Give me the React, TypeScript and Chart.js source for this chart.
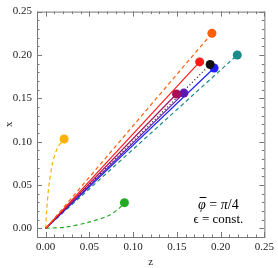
import React, { useEffect, useRef } from "react";
import { Chart, registerables } from "chart.js";

Chart.register(...registerables);

// Axis extents and tick values
const axisMin = -0.01;
const axisMax = 0.25;
const majorTicks = [0, 0.05, 0.1, 0.15, 0.2, 0.25];
const minorStep = 0.01;

// Series (z = horizontal, x = vertical)
const orangeZ = [0, 0.19];
const orangeX = [0, 0.225];
const redZ = [0, 0.176];
const redX = [0, 0.192];
const crimsonZ = [0, 0.1495];
const crimsonX = [0, 0.155];
const purpleZ = [0, 0.158];
const purpleX = [0, 0.156];
const blackZ = [0, 0.188];
const blackX = [0, 0.189];
const blueZ = [0, 0.1925];
const blueX = [0, 0.185];
const tealZ = [0, 0.219];
const tealX = [0, 0.2];
const yellowZ = [0, 0.0008, 0.0037, 0.0082, 0.0138, 0.021];
const yellowX = [0, 0.017, 0.05, 0.077, 0.0935, 0.103];
const greenZ = [0, 0.0232, 0.0493, 0.0717, 0.083, 0.09];
const greenX = [0, 0.0015, 0.0071, 0.0146, 0.0222, 0.0296];

const FONT = '"Liberation Serif", "DejaVu Serif", serif';

function pts(zs: number[], xs: number[]) {
  return zs.map((z, i) => ({ x: z, y: xs[i] }));
}

function ds(zs: number[], xs: number[], color: string, dash: number[], width = 1.2, tension = 0) {
  const n = zs.length;
  return {
    data: pts(zs, xs),
    showLine: true,
    borderColor: color,
    backgroundColor: color,
    borderWidth: width,
    borderDash: dash,
    tension,
    pointRadius: zs.map((_, i) => (i === n - 1 ? 4.5 : 0)),
    pointHoverRadius: 0,
    pointBorderWidth: 0,
    pointBackgroundColor: color,
  };
}

const framePlugin = {
  id: "frameTicks",
  beforeDatasetsDraw(chart: any) {
    const { ctx, chartArea } = chart;
    const { left, right, top, bottom } = chartArea;
    const xs = chart.scales.x;
    const ys = chart.scales.y;
    ctx.save();
    ctx.strokeStyle = "#777";
    ctx.lineWidth = 1;
    ctx.strokeRect(left + 0.5, top + 0.5, right - left, bottom - top);
    ctx.beginPath();
    const nSteps = Math.round((axisMax - axisMin) / minorStep);
    for (let i = 0; i <= nSteps; i++) {
      const v = axisMin + i * minorStep;
      const major = majorTicks.some((m) => Math.abs(m - v) < 1e-9);
      const len = major ? 5 : 2.5;
      const px = Math.round(xs.getPixelForValue(v)) + 0.5;
      const py = Math.round(ys.getPixelForValue(v)) + 0.5;
      ctx.moveTo(px, bottom);
      ctx.lineTo(px, bottom - len);
      ctx.moveTo(px, top);
      ctx.lineTo(px, top + len);
      ctx.moveTo(left, py);
      ctx.lineTo(left + len, py);
      ctx.moveTo(right, py);
      ctx.lineTo(right - len, py);
    }
    ctx.stroke();
    ctx.restore();
  },
  afterDraw(chart: any) {
    const { ctx, chartArea } = chart;
    ctx.save();
    ctx.fillStyle = "#000";
    ctx.strokeStyle = "#000";
    ctx.textBaseline = "middle";
    // line 1: φ̄ = π/4 (bar drawn as a stroke over φ)
    const parts: [string, string][] = [
      ["φ", `italic 14px ${FONT}`],
      [" = ", `14px ${FONT}`],
      ["π", `italic 14px ${FONT}`],
      ["/4", `14px ${FONT}`],
    ];
    let total = 0;
    for (const [t, f] of parts) {
      ctx.font = f;
      total += ctx.measureText(t).width;
    }
    let x = chartArea.right - 46 - total / 2;
    const y1 = chartArea.bottom - 32;
    ctx.textAlign = "left";
    parts.forEach(([t, f], idx) => {
      ctx.font = f;
      ctx.fillText(t, x, y1);
      const w = ctx.measureText(t).width;
      if (idx === 0) {
        ctx.lineWidth = 1;
        ctx.beginPath();
        ctx.moveTo(x + 1.5, y1 - 7.5);
        ctx.lineTo(x + w + 0.5, y1 - 7.5);
        ctx.stroke();
      }
      x += w;
    });
    ctx.font = `13px ${FONT}`;
    ctx.textAlign = "center";
    ctx.fillText("ϵ = const.", chartArea.right - 46, chartArea.bottom - 17);
    ctx.restore();
  },
};

export default function App() {
  const ref = useRef<HTMLCanvasElement | null>(null);
  useEffect(() => {
    document.body.style.margin = "0";
    if (!ref.current) return;
    const tickFont = { family: FONT, size: 11 };
    const chart = new Chart(ref.current, {
      type: "scatter",
      data: {
        datasets: [
          ds(orangeZ, orangeX, "#ff5f0a", [4, 3]),
          ds(redZ, redX, "#ff1a1a", []),
          ds(crimsonZ, crimsonX, "#a8105a", []),
          ds(purpleZ, purpleX, "#5c18b0", []),
          ds(blackZ, blackX, "#111111", [1, 2.5]),
          ds(blueZ, blueX, "#1f1fff", []),
          ds(tealZ, tealX, "#1a8a8a", [4, 3]),
          ds(yellowZ, yellowX, "#ffb000", [4, 3], 1.2, 0.3),
          ds(greenZ, greenX, "#22aa22", [4, 3], 1.2, 0.3),
        ] as any,
      },
      options: {
        responsive: false,
        animation: false,
        devicePixelRatio: 1,
        events: [],
        layout: { padding: { left: 0, top: 5, right: 9, bottom: 0 } },
        plugins: { legend: { display: false }, tooltip: { enabled: false } },
        scales: {
          x: {
            type: "linear",
            min: axisMin,
            max: axisMax,
            grid: { display: false, drawTicks: false },
            border: { display: false },
            afterBuildTicks: (s: any) => {
              s.ticks = majorTicks.map((v) => ({ value: v }));
            },
            afterFit: (s: any) => {
              s.height = 31;
            },
            ticks: {
              font: tickFont,
              color: "#222",
              padding: 4,
              maxRotation: 0,
              autoSkip: false,
              callback: (v: any) => Number(v).toFixed(2),
            },
            title: {
              display: true,
              text: "z",
              color: "#222",
              font: { family: FONT, size: 11, lineHeight: 1 },
              padding: { top: 0, bottom: 0 },
            },
          },
          y: {
            type: "linear",
            min: axisMin,
            max: axisMax,
            grid: { display: false, drawTicks: false },
            border: { display: false },
            afterBuildTicks: (s: any) => {
              s.ticks = majorTicks.map((v) => ({ value: v }));
            },
            afterFit: (s: any) => {
              s.width = 37;
            },
            ticks: {
              font: tickFont,
              color: "#222",
              padding: 5,
              autoSkip: false,
              callback: (v: any) => Number(v).toFixed(2),
            },
            title: {
              display: true,
              text: "x",
              color: "#222",
              font: { family: FONT, size: 11, lineHeight: 1 },
              padding: { top: 3.5, bottom: 0 },
            },
          },
        },
      } as any,
      plugins: [framePlugin],
    });
    return () => chart.destroy();
  }, []);
  return (
    <div style={{ width: 278, height: 268, background: "#fff" }}>
      <canvas ref={ref} width={278} height={268} style={{ display: "block" }} />
    </div>
  );
}
